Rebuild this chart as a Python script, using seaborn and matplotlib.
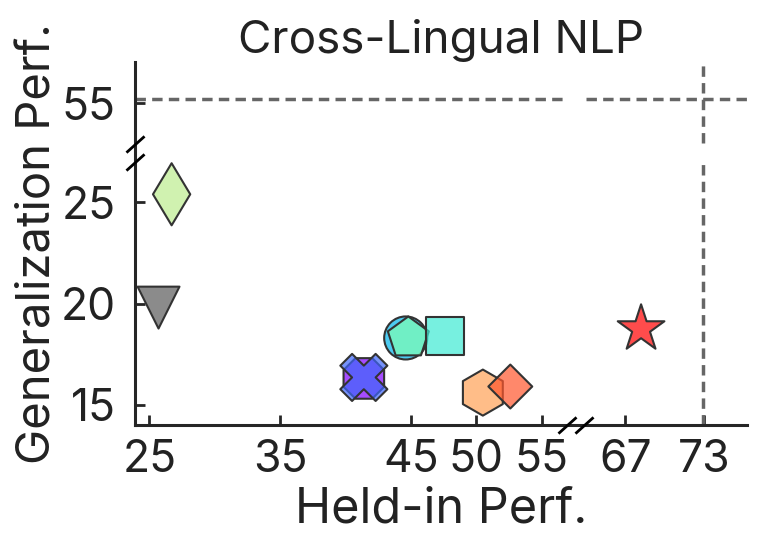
"""
Cross-Lingual NLP: held-in vs generalization performance (broken axes)
"""

import numpy as np
import pandas as pd
import matplotlib
matplotlib.use('Agg')
import matplotlib.pyplot as plt
import seaborn as sns

# values
models = ['Model A', 'Model B', 'Model C', 'Model D', 'Model E',
          'Model F', 'Model G', 'Model H', 'Model I', 'Model J']
held_in = [26.7, 25.7, 44.6, 44.8, 47.6, 41.4, 41.4, 50.5, 52.6, 68.2]
generalization = [25.4, 19.8, 18.3, 18.3, 18.4, 16.3, 16.35, 15.6, 15.9, 18.75]

ref_held_in = 72.9          # vertical dashed reference
ref_generalization = 55.2   # horizontal dashed reference

x_ticks = [25, 35, 45, 50, 55, 67, 73]
y_ticks = [15, 20, 25, 55]

# axis ranges and the gaps cut out of them
X_LIM = (23.9, 76.3)
X_GAP = (57.6, 63.2)
Y_LIM = (14.0, 57.05)
Y_GAP = (27.45, 52.55)

# marker styling per model
markers = {'Model A': 'd', 'Model B': 'v', 'Model C': 'o', 'Model D': 'p',
           'Model E': 's', 'Model F': '8', 'Model G': 'X', 'Model H': 'h',
           'Model I': 'D', 'Model J': '*'}
palette = {'Model A': '#bded8f', 'Model B': '#5a5a5a', 'Model C': '#00b4eb',
           'Model D': '#80ffb4', 'Model E': '#3dead3', 'Model F': '#8000ff',
           'Model G': '#3e66fa', 'Model H': '#ffa256', 'Model I': '#ff562c',
           'Model J': '#ff0000'}
sizes = {'Model A': 1000, 'Model B': 910, 'Model C': 960, 'Model D': 960,
         'Model E': 750, 'Model F': 1000, 'Model G': 1150, 'Model H': 1100,
         'Model I': 500, 'Model J': 1250}


def broken(lo, hi):
    """Forward/inverse pair that squeezes the interval (lo, hi) to nothing"""
    width = hi - lo

    def fwd(v):
        v = np.asarray(v, dtype=float)
        return np.where(v <= lo, v, np.where(v >= hi, v - width, lo))

    def inv(t):
        t = np.asarray(t, dtype=float)
        return np.where(t <= lo, t, t + width)

    return fwd, inv


sns.set_style("ticks")
plt.rcParams['font.family'] = ['Inter', 'DejaVu Sans']
TEXT = '#222222'

df = pd.DataFrame({'model': models, 'held_in': held_in,
                   'generalization': generalization})

fig, ax = plt.subplots(figsize=(7.61, 5.5), dpi=100)
fig.subplots_adjust(left=0.1774, right=0.9816, bottom=0.2273, top=0.8878)

ax.set_xscale('function', functions=broken(*X_GAP))
ax.set_yscale('function', functions=broken(*Y_GAP))

sns.scatterplot(data=df, x='held_in', y='generalization',
                hue='model', style='model', size='model',
                palette=palette, markers=markers, sizes=sizes,
                alpha=0.7, linewidth=1.5,
                legend=False, ax=ax, zorder=3)

# translucent faces, solid dark outlines
pts = ax.collections[0]
fc = pts.get_facecolors()
pts.set_alpha(None)
fc[:, 3] = 0.7
pts.set_facecolors(fc)
pts.set_edgecolors('#333333')

# dashed reference lines, interrupted at the axis breaks
dash = dict(color='#666666', linewidth=2.5, linestyle=(0, (3.0, 1.8)), zorder=2)
ax.plot([X_LIM[0], X_GAP[0] - 1.0], [ref_generalization] * 2, **dash)
ax.plot([X_GAP[1] + 0.8, X_LIM[1]], [ref_generalization] * 2, **dash)
ax.plot([ref_held_in] * 2, [Y_GAP[1] + 0.48, Y_LIM[1]], **dash)
ax.plot([ref_held_in] * 2, [Y_LIM[0], Y_GAP[0] - 0.45], **dash)

ax.set_xlim(*X_LIM)
ax.set_ylim(*Y_LIM)
ax.set_xticks(x_ticks)
ax.set_xticklabels([str(t) for t in x_ticks])
ax.set_yticks(y_ticks)
ax.set_yticklabels([str(t) for t in y_ticks])
ax.minorticks_off()

sns.despine(ax=ax)
for side in ['left', 'bottom']:
    ax.spines[side].set_linewidth(2.2)
    ax.spines[side].set_color('#262626')
ax.tick_params(direction='in', length=7, width=2, color='#262626',
               labelsize=32, labelcolor=TEXT)
ax.tick_params(axis='x', pad=10)
ax.tick_params(axis='y', pad=14)

# break marks on the spines
slash = dict(marker=[(-1, -0.9), (1, 0.9)], markersize=13, linestyle='none',
             color='black', mec='black', mew=2, clip_on=False, zorder=5)
ax.plot([X_GAP[0] - 0.65, X_GAP[1] + 0.65], [0, 0],
        transform=ax.get_xaxis_transform(), **slash)
ax.plot([0, 0], [Y_GAP[1] + 0.45, Y_GAP[0] - 0.45],
        transform=ax.get_yaxis_transform(), **slash)

ax.set_xlabel('Held-in Perf.', fontsize=35, color=TEXT, labelpad=4)
ax.set_ylabel('Generalization Perf.', fontsize=34, color=TEXT, labelpad=0)
ax.set_title('Cross-Lingual NLP', fontsize=33, color=TEXT, pad=4)

plt.savefig('out.png', dpi=100)
print("Saved: out.png")
